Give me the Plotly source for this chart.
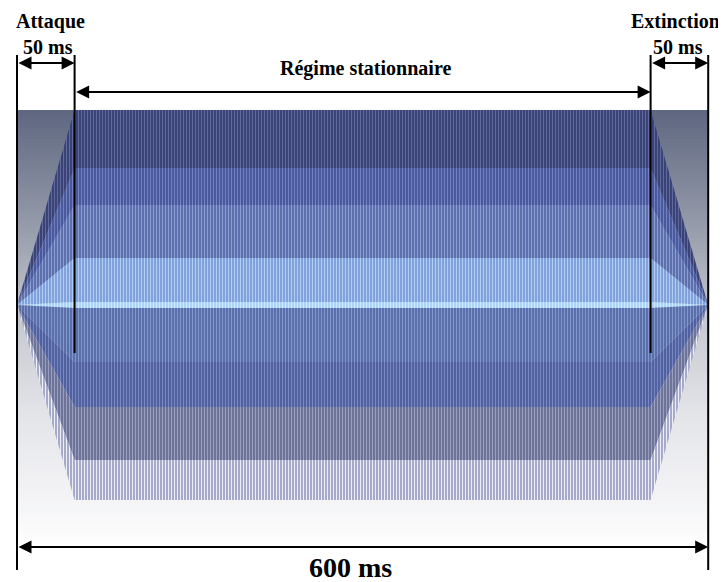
import plotly.graph_objects as go
import numpy as np

# ---- data ----
phase_names = ["Attaque", "Régime stationnaire", "Extinction"]
phase_durations_ms = [50, 500, 50]
phase_labels = ["50 ms", "Régime stationnaire", "50 ms"]
total_label = "600 ms"

env_times = [0, 50, 550, 600]
env_amp = [0, 1, 1, 0]

# band boundaries (relative amplitude), from top to bottom
band_hi = [1.0, 0.703, 0.513, 0.241, 0.015, -0.015, -0.292, -0.523, -0.795]
band_lo = [0.703, 0.513, 0.241, 0.015, -0.015, -0.292, -0.523, -0.795, -1.0]
band_colors = ["#3b4374", "#4a589c", "#5d6fac", "#82a2db", "#aad4fa",
               "#5a6fa9", "#5161a0", "#6d7497", "#a6aac8"]
stripe_colors = ["#5f6aa0", "#7080c0", "#8a9ed2", "#b0ccf4", "#d0e8ff",
                 "#8298cc", "#7888c2", "#989ec0", "#eceef8"]

# ---- pixel mapping helpers (layout only; page has 8px body margin) ----
OFF = 8
px_per_ms = 1.152
x0_px = 17
y_center_px = 305
px_per_amp = 195
W, H = 726, 582
xr = [(OFF - x0_px) / px_per_ms, (OFF + W - x0_px) / px_per_ms]
yr = [(y_center_px - OFF - H) / px_per_amp, (y_center_px - OFF) / px_per_amp]

def ypx(p):
    return (y_center_px - p) / px_per_amp

def xms(p):
    return (p - x0_px) / px_per_ms

fig = go.Figure()

# background gradient
ny = 120
y_edges = np.linspace(-1.25, 1.0, ny + 1)
y_mid = (y_edges[:-1] + y_edges[1:]) / 2
fig.add_trace(go.Heatmap(
    x=[env_times[0], env_times[-1]], y=y_edges,
    z=[[v] for v in y_mid],
    colorscale=[[0.0, "#ffffff"], [0.09, "#f6f6f8"], [0.31, "#e3e4e8"],
                [0.53, "#c4c7cf"], [0.76, "#9096a6"], [1.0, "#5e6780"]],
    zmin=-1.25, zmax=1.0, showscale=False, hoverinfo="skip"))

# waveform bands
for hi, lo, c, sc in zip(band_hi, band_lo, band_colors, stripe_colors):
    xs = [env_times[0], env_times[1], env_times[2], env_times[3],
          env_times[2], env_times[1], env_times[0]]
    ys = [0, hi * env_amp[1], hi * env_amp[2], 0,
          lo * env_amp[2], lo * env_amp[1], 0]
    fig.add_trace(go.Scatter(
        x=xs, y=ys, mode="lines", fill="toself", fillcolor=c,
        line=dict(width=0, color=c),
        fillpattern=dict(shape="|", size=3, solidity=0.35,
                         fgcolor=sc, bgcolor=c, fillmode="replace"),
        hoverinfo="skip", showlegend=False))

# vertical lines
t_attack = phase_durations_ms[0]
t_release = phase_durations_ms[0] + phase_durations_ms[1]
t_total = sum(phase_durations_ms)
shapes = [
    dict(type="line", x0=0, x1=0, y0=ypx(55), y1=ypx(570)),
    dict(type="line", x0=t_total, x1=t_total, y0=ypx(55), y1=ypx(570)),
    dict(type="line", x0=t_attack, x1=t_attack, y0=ypx(55), y1=ypx(353)),
    dict(type="line", x0=t_release, x1=t_release, y0=ypx(55), y1=ypx(353)),
]
for s in shapes:
    s.update(xref="x", yref="y", line=dict(color="black", width=2), layer="above")

annotations = []
def arrow(xa, xb, y):
    annotations.append(dict(x=xb, y=y, ax=xa, ay=y, xref="x", yref="y",
                            axref="x", ayref="y", text="", showarrow=True,
                            arrowhead=2, startarrowhead=2, arrowside="end+start",
                            arrowsize=1.3, arrowwidth=2, arrowcolor="black"))

arrow(0, t_attack, ypx(63))
arrow(t_attack, t_release, ypx(92))
arrow(t_release, t_total, ypx(63))
arrow(0, t_total, ypx(547))

font = dict(family="Liberation Serif", color="black")
def label(x_px, y_px, text, size):
    annotations.append(dict(x=xms(x_px), y=ypx(y_px), xref="x", yref="y",
                            text="<b>%s</b>" % text, showarrow=False,
                            font=dict(size=size, **font)))

label(50, 21, phase_names[0], 20)
label(48, 47, phase_labels[0], 20)
label(365, 68, phase_labels[1], 20)
label(675, 21, phase_names[2], 20)
label(678, 47, phase_labels[2], 20)
label(350, 567, total_label, 28)

fig.update_layout(
    width=W, height=H, margin=dict(l=0, r=0, t=0, b=0),
    paper_bgcolor="white", plot_bgcolor="white",
    xaxis=dict(range=xr, visible=False, fixedrange=True),
    yaxis=dict(range=yr, visible=False, fixedrange=True),
    shapes=shapes, annotations=annotations, showlegend=False)

fig.write_html("out.html")
